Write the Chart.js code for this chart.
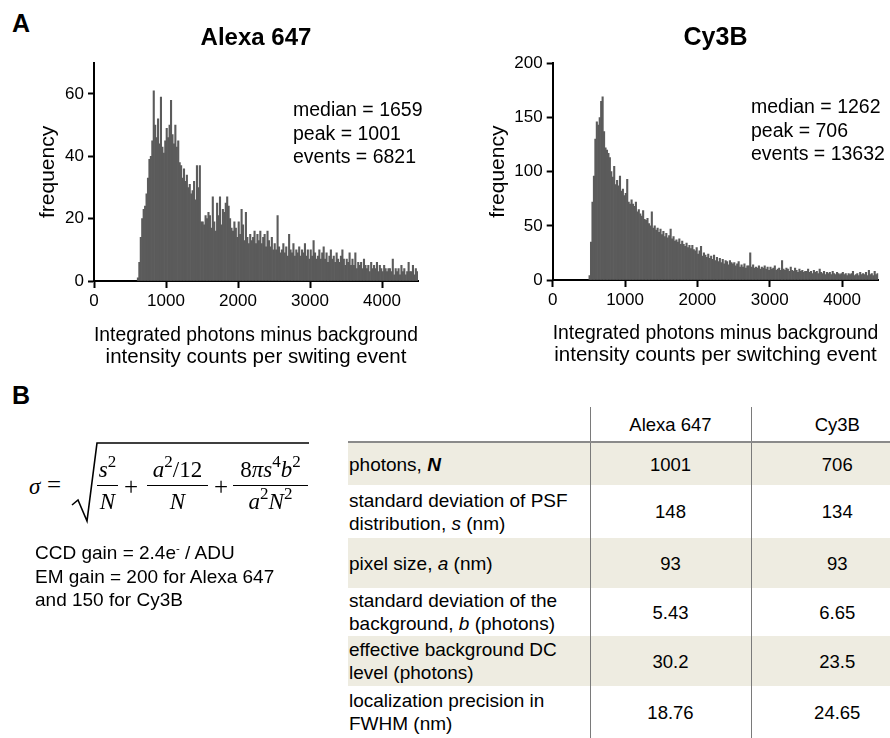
<!DOCTYPE html>
<html>
<head>
<meta charset="utf-8">
<script src="https://cdn.jsdelivr.net/npm/chart.js@4.4.0/dist/chart.umd.min.js"></script>
<style>
  html, body { margin: 0; padding: 0; background: #fff; }
  body { width: 890px; height: 738px; position: relative; overflow: hidden;
         font-family: 'Liberation Sans', Arial, sans-serif; color: #000; }
  .abs { position: absolute; }
  canvas { position: absolute; top: 0; }
  .panel { font-weight: bold; font-size: 25px; }
  .stats { font-size: 19.5px; line-height: 23.5px; white-space: nowrap; }
  .math { font-family: 'Liberation Serif', 'DejaVu Serif', serif; font-style: italic; font-size: 23px; }
  .frac { position: absolute; top: 449px; }
  .frac .num { height: 36px; line-height: 42px; text-align: center; white-space: nowrap; }
  .frac .bar { border-top: 1.5px solid #000; }
  .frac .den { height: 32px; line-height: 32px; text-align: center; white-space: nowrap; }
  .math sup { font-size: 0.74em; vertical-align: 0.6em; line-height: 0; font-style: normal; }
  .notes { font-size: 19px; line-height: 23.5px; white-space: nowrap; }
  table { position: absolute; left: 348px; top: 407px; width: 575px; border-collapse: collapse;
          font-size: 19px; table-layout: fixed; }
  td { padding: 0 0 0 1px; line-height: 23px; vertical-align: middle; white-space: nowrap; }
  td.v { text-align: center; border-left: 1px solid #7a7a7a; padding: 0; font-size: 18.5px; }
  tr.shade td { background: #eeece1; }
  tr.head td { border-bottom: 2px solid #8a8a8a; }
</style>
</head>
<body>
<div class="abs panel" style="left:12px; top:9px;">A</div>
<div class="abs panel" style="left:12px; top:381px;">B</div>

<canvas id="alexaChart" width="445" height="380" style="left:0;"></canvas>
<canvas id="cy3bChart" width="445" height="380" style="left:445px;"></canvas>

<div class="abs stats" id="alexaStats" style="left:293px; top:98px;"></div>
<div class="abs stats" id="cy3bStats" style="left:751px; top:95px;"></div>

<!-- formula -->
<div class="abs math" style="left:29px; top:472px; line-height:30px;">σ</div>
<div class="abs" style="left:47px; top:470px; font-family:'Liberation Serif',serif; font-size:25px; line-height:30px;">=</div>
<svg class="abs" style="left:0; top:0;" width="340" height="540">
  <path d="M72 505 L78 500 L87 521 L97 443 L309 443" fill="none" stroke="#000" stroke-width="1.6"/>
</svg>
<div class="frac math" style="left:97px; width:21px;">
  <div class="num">s<sup>2</sup></div><div class="bar"></div><div class="den">N</div>
</div>
<div class="abs" style="left:124px; top:472px; font-size:25px; line-height:30px; font-family:'Liberation Serif',serif;">+</div>
<div class="frac math" style="left:147px; width:61px;">
  <div class="num">a<sup>2</sup><span style="font-style:normal">/12</span></div><div class="bar"></div><div class="den">N</div>
</div>
<div class="abs" style="left:214px; top:472px; font-size:25px; line-height:30px; font-family:'Liberation Serif',serif;">+</div>
<div class="frac math" style="left:233px; width:75px;">
  <div class="num"><span style="font-style:normal">8</span>πs<sup>4</sup>b<sup>2</sup></div><div class="bar"></div><div class="den">a<sup>2</sup>N<sup>2</sup></div>
</div>

<div class="abs notes" style="left:35px; top:541px;">
  CCD gain = 2.4e<sup style="font-size:0.6em; vertical-align:0.6em; line-height:0">-</sup> / ADU<br>
  EM gain = 200 for Alexa 647<br>
  and 150 for Cy3B
</div>

<table id="paramTable">
  <colgroup><col style="width:242px"><col style="width:161px"><col style="width:172px"></colgroup>
</table>

<script>
'use strict';

// histogram bins (width 20 photons), counts per bin
var binWidth = 20;
var alexaStart = 600;
var alexaCounts = [
  1, 6, 14, 20, 23,   24, 28, 33, 39, 40,   45, 61, 50, 46, 52,   44, 59, 43, 41, 45,
  49, 46, 50, 58, 47,  44, 50, 43, 45, 38,  37, 33, 36, 32, 34,   30, 31, 28, 29, 32,
  26, 37, 30, 37, 19,  19, 18, 21, 20, 22,  21, 17, 27, 19, 16,   25, 21, 27, 18, 23,
  22, 25, 27, 24, 20,  17, 16, 19, 17, 14,  19, 15, 23, 18, 13,   22, 14, 12, 15, 13,
  14, 16, 12, 15, 13,  16, 12, 14, 15, 11,  16, 13, 11, 14, 10,   12, 10, 21, 11, 9,
  10, 12, 9, 11, 8,    15, 10, 9, 12, 8,    10, 9, 11, 8, 10,     9, 12, 8, 10, 7,
  10, 8, 13, 9, 7,     8, 10, 7, 9, 11,     7, 9, 6, 8, 10,       7, 8, 6, 9, 7,
  6, 8, 10, 7, 5,      7, 6, 9, 5, 7,       5, 9, 4, 6, 5,        6, 4, 7, 5, 4,
  5, 3, 6, 4, 5,       4, 6, 3, 5, 4,       3, 5, 4, 3, 4,        4, 3, 7, 2, 4,
  3, 4, 2, 5, 3,       4, 2, 3, 6, 3,       3, 5, 2, 4, 3
];
var cy3bStart = 500;
var cy3bCounts = [
  4, 35, 72, 96, 130,    146, 143, 150, 165, 169,  137, 122, 120, 117, 113,  100, 95, 105, 88, 92,
  87, 96, 82, 84, 78,    80, 93, 72, 70, 74,       70, 68, 72, 63, 65,       61, 59, 64, 56, 55,
  57, 52, 50, 63, 48,    50, 46, 48, 44, 47,       42, 45, 40, 43, 39,       41, 47, 38, 40, 36,
  37, 35, 38, 33, 36,    33, 31, 34, 30, 32,       29, 32, 28, 27, 30,       24, 27, 31, 22, 25,
  23, 21, 24, 20, 22,    19, 23, 18, 21, 17,       20, 16, 19, 15, 18,       17, 14, 18, 16, 15,
  16, 13, 15, 17, 12,    14, 12, 15, 11, 13,       13, 25, 12, 14, 11,       12, 11, 13, 10, 12,
  11, 13, 10, 12, 9,     12, 10, 11, 13, 9,        10, 11, 9, 18, 10,        9, 11, 10, 8, 12,
  9, 8, 11, 9, 7,        10, 8, 9, 7, 8,           8, 10, 7, 8, 6,           9, 7, 8, 6, 10,
  7, 6, 8, 5, 7,         6, 7, 5, 8, 6,            5, 7, 6, 5, 6,            7, 5, 6, 4, 6,
  5, 6, 8, 4, 5,         6, 4, 7, 5, 6,            5, 7, 4, 9, 5,            6, 4, 8, 5, 6
];

var xTicks = [0, 1000, 2000, 3000, 4000];
var alexaYTicks = [0, 20, 40, 60];
var cy3bYTicks = [0, 50, 100, 150, 200];

var alexaStatLines = ['median = 1659', 'peak = 1001', 'events = 6821'];
var cy3bStatLines = ['median = 1262', 'peak = 706', 'events = 13632'];

var xTitleAlexa = ['Integrated photons minus background', 'intensity counts per switing event'];
var xTitleCy3b = ['Integrated photons minus background', 'intensity counts per switching event'];

// table B
var tableHeader = ['', 'Alexa 647', 'Cy3B'];
var rowLabels = [
  'photons, <i><b>N</b></i>',
  'standard deviation of PSF<br>distribution, <i>s</i> (nm)',
  'pixel size, <i>a</i> (nm)',
  'standard deviation of the<br>background, <i>b</i> (photons)',
  'effective background DC<br>level (photons)',
  'localization precision in<br>FWHM (nm)'
];
var alexaParams = ['1001', '148', '93', '5.43', '30.2', '18.76'];
var cy3bParams = ['706', '134', '93', '6.65', '23.5', '24.65'];
var rowHeights = [43, 53, 50, 48, 50, 52];

Chart.defaults.font.family = "'Liberation Sans', Arial, sans-serif";
Chart.defaults.color = '#000';

function toPoints(start, counts) {
  return counts.map(function(c, i) {
    return { x: start + i * binWidth + binWidth / 2, y: c };
  });
}

function fixedTicks(values) {
  return function(scale) {
    scale.ticks = values.map(function(v) { return { value: v }; });
  };
}

function makeHistogram(canvasId, opts) {
  var ctx = document.getElementById(canvasId).getContext('2d');
  return new Chart(ctx, {
    type: 'bar',
    data: {
      datasets: [{
        data: toPoints(opts.start, opts.counts),
        backgroundColor: '#5b5b5b',
        borderWidth: 0,
        barPercentage: 1,
        categoryPercentage: 1
      }]
    },
    options: {
      responsive: false,
      animation: false,
      layout: { padding: opts.padding },
      plugins: {
        legend: { display: false },
        tooltip: { enabled: false },
        title: {
          display: true,
          fullSize: false,
          text: opts.title,
          font: { size: opts.titleSize, weight: 'bold', lineHeight: 1.2 },
          color: '#000',
          padding: opts.titlePadding
        }
      },
      scales: {
        x: {
          type: 'linear',
          min: 0,
          max: 4500,
          offset: false,
          grid: { display: true, offset: false, drawOnChartArea: false, drawTicks: true,
                  tickLength: 7, tickColor: '#000', tickWidth: 2 },
          border: { display: true, color: '#000', width: 2 },
          ticks: { autoSkip: false, padding: 3, font: { size: 17 }, color: '#000', maxRotation: 0,
                   callback: function(v) { return String(v); } },
          afterBuildTicks: fixedTicks(xTicks),
          title: { display: true, text: opts.xTitle, color: '#000', padding: 0,
                   font: { size: 20.5, lineHeight: 1.05 } },
          afterFit: function(scale) { scale.height = opts.xHeight; }
        },
        y: {
          min: 0,
          max: opts.yMax,
          grid: { display: true, drawOnChartArea: false, drawTicks: true,
                  tickLength: 6, tickColor: '#000', tickWidth: 2 },
          border: { display: true, color: '#000', width: 2 },
          ticks: { autoSkip: false, padding: 4, font: { size: 17 }, color: '#000',
                   callback: function(v) { return String(v); } },
          afterBuildTicks: fixedTicks(opts.yTicks),
          title: { display: true, text: 'frequency', color: '#000', padding: 0,
                   font: { size: 21, lineHeight: 1.0 } },
          afterFit: function(scale) { scale.width = opts.yWidth; }
        }
      }
    }
  });
}

makeHistogram('alexaChart', {
  start: alexaStart, counts: alexaCounts, title: 'Alexa 647', titleSize: 24,
  titlePadding: { top: 24, bottom: 10 },
  padding: { left: 37.5, top: 0, right: 27, bottom: 12 },
  xTitle: xTitleAlexa, xHeight: 87, yWidth: 56.5, yMax: 70, yTicks: alexaYTicks
});

makeHistogram('cy3bChart', {
  start: cy3bStart, counts: cy3bCounts, title: 'Cy3B', titleSize: 25,
  titlePadding: { top: 23.5, bottom: 9.8 },
  padding: { left: 42.5, top: 0, right: 11.7, bottom: 14 },
  xTitle: xTitleCy3b, xHeight: 86, yWidth: 65.2, yMax: 200, yTicks: cy3bYTicks
});

document.getElementById('alexaStats').innerHTML = alexaStatLines.join('<br>');
document.getElementById('cy3bStats').innerHTML = cy3bStatLines.join('<br>');

// build the parameter table
var table = document.getElementById('paramTable');
var head = document.createElement('tr');
head.className = 'head';
head.style.height = '35px';
tableHeader.forEach(function(h, i) {
  var td = document.createElement('td');
  if (i > 0) td.className = 'v';
  td.textContent = h;
  head.appendChild(td);
});
table.appendChild(head);

rowLabels.forEach(function(label, r) {
  var tr = document.createElement('tr');
  if (r % 2 === 0) tr.className = 'shade';
  tr.style.height = rowHeights[r] + 'px';
  var cells = [label, alexaParams[r], cy3bParams[r]];
  cells.forEach(function(c, i) {
    var td = document.createElement('td');
    if (i > 0) td.className = 'v';
    td.innerHTML = c;
    tr.appendChild(td);
  });
  table.appendChild(tr);
});
</script>
</body>
</html>
